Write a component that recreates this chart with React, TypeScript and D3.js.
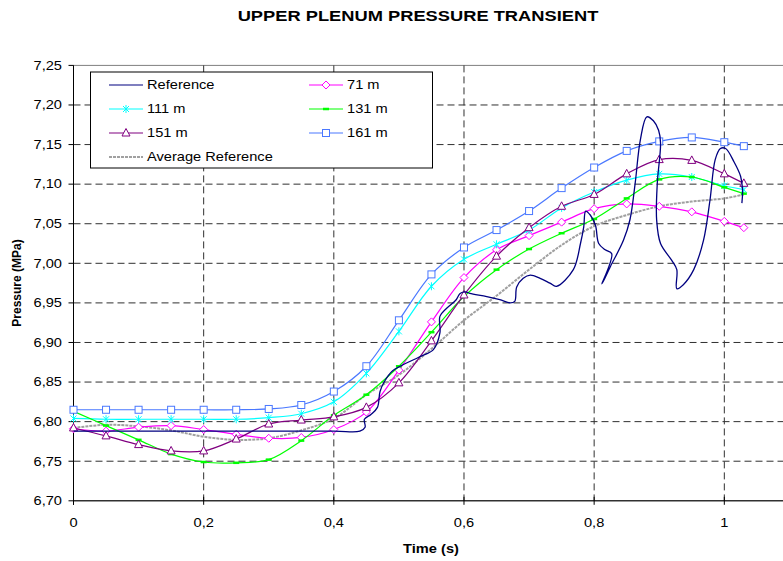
import * as d3 from 'd3'

const times = [0, 0.05, 0.1, 0.15, 0.2, 0.25, 0.3, 0.35, 0.4, 0.45, 0.5, 0.55, 0.6, 0.65, 0.7, 0.75, 0.8, 0.85, 0.9, 0.95, 1.0, 1.03]

const p71 = [6.791, 6.788, 6.793, 6.795, 6.790, 6.784, 6.779, 6.780, 6.790, 6.812, 6.865, 6.926, 6.982, 7.017, 7.035, 7.052, 7.069, 7.075, 7.072, 7.065, 7.053, 7.045]
const p111 = [6.804, 6.803, 6.803, 6.803, 6.803, 6.803, 6.805, 6.810, 6.825, 6.861, 6.914, 6.971, 7.005, 7.024, 7.042, 7.070, 7.090, 7.105, 7.113, 7.109, 7.098, 7.093]
const p131 = [6.813, 6.795, 6.777, 6.759, 6.749, 6.748, 6.752, 6.776, 6.808, 6.834, 6.870, 6.913, 6.958, 6.992, 7.018, 7.038, 7.056, 7.082, 7.106, 7.109, 7.096, 7.088]
const p151 = [6.792, 6.782, 6.771, 6.763, 6.763, 6.778, 6.797, 6.802, 6.806, 6.818, 6.849, 6.902, 6.960, 7.009, 7.045, 7.072, 7.087, 7.113, 7.131, 7.130, 7.113, 7.101]
const p161 = [6.815, 6.815, 6.815, 6.815, 6.815, 6.815, 6.816, 6.821, 6.838, 6.870, 6.928, 6.986, 7.020, 7.042, 7.066, 7.095, 7.121, 7.142, 7.154, 7.159, 7.153, 7.148]
const pAvg = [6.792, 6.796, 6.794, 6.789, 6.781, 6.777, 6.779, 6.789, 6.804, 6.834, 6.859, 6.892, 6.928, 6.959, 6.992, 7.023, 7.047, 7.061, 7.072, 7.078, 7.082, 7.087]

// reference trace (x goes back and forth, so it has its own time list)
const refT = [0, 0.2, 0.4, 0.44, 0.448, 0.447, 0.457, 0.467, 0.471, 0.478, 0.49, 0.502, 0.532, 0.553, 0.563, 0.563, 0.573, 0.588, 0.594, 0.602, 0.609, 0.635, 0.655, 0.671, 0.678, 0.681, 0.691, 0.702, 0.717, 0.732, 0.742, 0.768, 0.779, 0.784, 0.787, 0.794, 0.802, 0.807, 0.817, 0.827, 0.812, 0.825, 0.845, 0.855, 0.863, 0.871, 0.881, 0.891, 0.899, 0.902, 0.897, 0.896, 0.902, 0.919, 0.927, 0.927, 0.937, 0.953, 0.968, 0.978, 0.986, 0.994, 1.002, 1.015, 1.025, 1.028, 1.027]
const refP = [6.788, 6.788, 6.788, 6.788, 6.793, 6.803, 6.809, 6.818, 6.838, 6.851, 6.864, 6.870, 6.882, 6.891, 6.912, 6.933, 6.943, 6.954, 6.962, 6.964, 6.962, 6.958, 6.954, 6.950, 6.952, 6.970, 6.981, 6.985, 6.981, 6.975, 6.971, 6.992, 7.025, 7.046, 7.066, 7.061, 7.048, 7.025, 7.017, 7.012, 6.974, 6.996, 7.029, 7.055, 7.101, 7.156, 7.185, 7.180, 7.168, 7.152, 7.101, 7.055, 7.025, 7.004, 6.992, 6.968, 6.973, 6.992, 7.029, 7.080, 7.131, 7.145, 7.145, 7.128, 7.110, 7.093, 7.076]

const xTicks = [0, 0.2, 0.4, 0.6, 0.8, 1]
const yTicks = [6.70, 6.75, 6.80, 6.85, 6.90, 6.95, 7.00, 7.05, 7.10, 7.15, 7.20, 7.25]

const W = 783
const H = 561
const SX = 1.22 // the source image is stretched sideways

const x = d3.scaleLinear().domain([0, 1.1]).range([73.5, 789.4])
const y = d3.scaleLinear().domain([6.7, 7.25]).range([500.8, 65.4])

const fmtX = (v: number) => String(v).replace('.', ',')
const fmtY = (v: number) => v.toFixed(2).replace('.', ',')

const marker = (kind: string, color: string, cx: number, cy: number, key?: any) => {
  const t = `translate(${cx},${cy})`
  if (kind === 'diamond') return <path key={key} transform={t} d="M0,-4L4,0L0,4L-4,0Z" fill="white" stroke={color} strokeWidth={1} />
  if (kind === 'square') return <rect key={key} x={cx - 3.5} y={cy - 3.5} width={7} height={7} fill="white" stroke={color} strokeWidth={1} />
  if (kind === 'triangle') return <path key={key} transform={t} d="M0,-4.5L4,3L-4,3Z" fill="white" stroke={color} strokeWidth={1} />
  if (kind === 'star') return <path key={key} transform={t} d="M-3,-3L3,3M-3,3L3,-3M0,-4L0,4" fill="none" stroke={color} strokeWidth={1} />
  if (kind === 'dash') return <path key={key} transform={t} d="M-3,0L3,0" stroke={color} strokeWidth={2.5} />
  return null
}

const series = [
  { name: '71 m', vals: p71, color: '#ff00ff', m: 'diamond' },
  { name: '111 m', vals: p111, color: '#00ffff', m: 'star' },
  { name: '131 m', vals: p131, color: '#00ff00', m: 'dash' },
  { name: '151 m', vals: p151, color: '#800080', m: 'triangle' },
  { name: '161 m', vals: p161, color: '#4a78ff', m: 'square' },
]

const legendItems = [
  { name: 'Reference', color: '#000080', m: 'none', col: 0, row: 0 },
  { name: '71 m', color: '#ff00ff', m: 'diamond', col: 1, row: 0 },
  { name: '111 m', color: '#00ffff', m: 'star', col: 0, row: 1 },
  { name: '131 m', color: '#00ff00', m: 'dash', col: 1, row: 1 },
  { name: '151 m', color: '#800080', m: 'triangle', col: 0, row: 2 },
  { name: '161 m', color: '#4a78ff', m: 'square', col: 1, row: 2 },
  { name: 'Average Reference', color: '#a0a0a0', m: 'avg', col: 0, row: 3 },
]

export default function App() {
  const line = d3.line<[number, number]>()
    .x(d => x(d[0]))
    .y(d => y(d[1]))
    .curve(d3.curveCatmullRom.alpha(0.5))

  const refPts = refT.map((t, i) => [t, refP[i]] as [number, number])
  const avgPts = times.map((t, i) => [t, pAvg[i]] as [number, number])

  const [x0, x1] = x.range()
  const [y0, y1] = y.range()

  return (
    <svg width={W} height={H} style={{ position: 'absolute', left: 0, top: 0, background: 'white' }}
      fontFamily="'Liberation Sans', Arial, sans-serif">
      <rect x={0} y={0} width={W} height={H} fill="white" />

      <text transform={`translate(418,21) scale(${SX},1)`} textAnchor="middle" fontSize={15} fontWeight="bold">UPPER PLENUM PRESSURE TRANSIENT</text>

      {/* plot border */}
      <rect x={x0} y={y1} width={x1 - x0} height={y0 - y1} fill="none" stroke="#808080" strokeWidth={1} />

      {/* grid */}
      {yTicks.filter(v => v > 6.71 && v < 7.24).map(v => (
        <line key={'gy' + v} x1={x0} x2={x1} y1={y(v)} y2={y(v)} stroke="#303030" strokeWidth={1} strokeDasharray="7,4" />
      ))}
      {xTicks.filter(v => v > 0).map(v => (
        <line key={'gx' + v} x1={x(v)} x2={x(v)} y1={y1} y2={y0} stroke="#303030" strokeWidth={1} strokeDasharray="7,4" />
      ))}

      {/* axes */}
      <line x1={x0} x2={x0} y1={y1} y2={y0 + 4} stroke="black" strokeWidth={1} />
      <line x1={x0} x2={x1} y1={y0} y2={y0} stroke="black" strokeWidth={1} />
      {yTicks.map(v => (
        <g key={'ty' + v}>
          <line x1={x0 - 5} x2={x0} y1={y(v)} y2={y(v)} stroke="black" />
          <text transform={`translate(62,${y(v) + 4.3}) scale(${SX},1)`} textAnchor="end" fontSize={12}>{fmtY(v)}</text>
        </g>
      ))}
      {xTicks.map(v => (
        <g key={'tx' + v}>
          <line x1={x(v)} x2={x(v)} y1={y0 - 4} y2={y0 + 4} stroke="black" />
          <text transform={`translate(${x(v)},${y0 + 26}) scale(${SX},1)`} textAnchor="middle" fontSize={12}>{fmtX(v)}</text>
        </g>
      ))}
      <text transform={`translate(431,553) scale(${SX},1)`} textAnchor="middle" fontSize={12} fontWeight="bold">Time (s)</text>
      <text transform="translate(21,283) rotate(-90)" textAnchor="middle" fontSize={12} fontWeight="bold">Pressure (MPa)</text>

      {/* average reference */}
      <path d={line(avgPts) || ''} fill="none" stroke="#a0a0a0" strokeWidth={2} strokeDasharray="3,1" />

      {/* simulated series */}
      {series.map(s => {
        const pts = times.map((t, i) => [t, s.vals[i]] as [number, number])
        return (
          <g key={s.name}>
            <path d={line(pts) || ''} fill="none" stroke={s.color} strokeWidth={1.2} />
            {pts.map((p, i) => marker(s.m, s.color, x(p[0]), y(p[1]), i))}
          </g>
        )
      })}

      {/* reference */}
      <path d={line(refPts) || ''} fill="none" stroke="#000080" strokeWidth={1.3} />

      {/* legend */}
      <rect x={90.5} y={72} width={342} height={96} fill="white" stroke="black" strokeWidth={1} />
      {legendItems.map(it => {
        const lx = it.col === 0 ? 109 : 309
        const ly = 85 + it.row * 24
        return (
          <g key={'lg' + it.name}>
            {it.m === 'avg'
              ? <line x1={lx} x2={lx + 34} y1={ly} y2={ly} stroke="#a0a0a0" strokeWidth={2} strokeDasharray="3,1" />
              : <line x1={lx} x2={lx + 34} y1={ly} y2={ly} stroke={it.color} strokeWidth={1.2} />}
            {marker(it.m, it.color, lx + 17, ly)}
            <text transform={`translate(${lx + 38},${ly + 4.3}) scale(${SX},1)`} fontSize={12}>{it.name}</text>
          </g>
        )
      })}
    </svg>
  )
}
